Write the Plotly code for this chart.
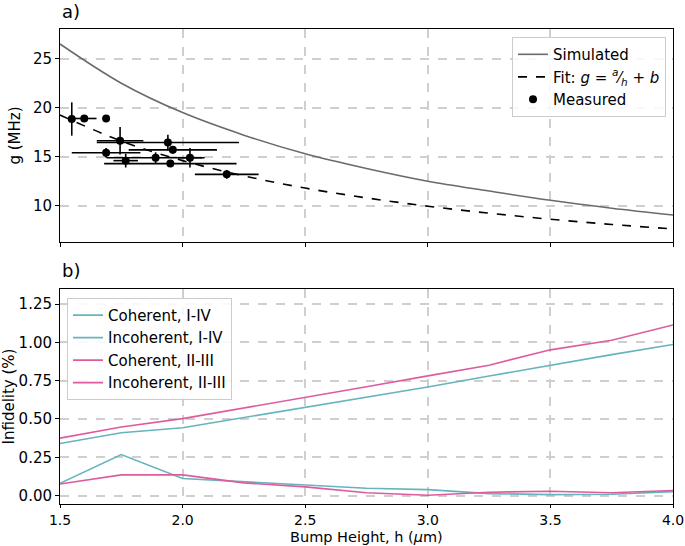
import plotly.graph_objects as go
from plotly.subplots import make_subplots

# ---- Panel a) data ----
h_curve = [1.5, 1.75, 2.0, 2.25, 2.5, 2.75, 3.0, 3.25, 3.5, 3.75, 4.0]
g_sim = [26.5, 22.5, 19.5, 17.2, 15.3, 13.8, 12.5, 11.5, 10.55, 9.75, 9.05]
g_fit = [19.25, 16.6, 14.6, 13.05, 11.8, 10.8, 9.95, 9.24, 8.62, 8.09, 7.63]

h_meas = [1.548, 1.599, 1.688, 1.745, 1.688, 1.768, 1.89, 1.94, 1.96, 1.95, 2.03, 2.18]
g_meas = [18.85, 18.9, 18.9, 16.63, 15.4, 14.6, 14.9, 16.45, 15.7, 14.3, 14.9, 13.2]
h_err = [0.0, 0.05, 0.0, 0.095, 0.14, 0.05, 0.2, 0.29, 0.18, 0.27, 0.05, 0.13]
g_err = [1.7, 0.0, 0.0, 1.4, 0.5, 0.7, 0.55, 0.8, 0.4, 0.0, 1.0, 0.45]

# ---- Panel b) data ----
h_inf = [1.5, 1.75, 2.0, 2.25, 2.5, 2.75, 3.0, 3.25, 3.5, 3.75, 4.0]
coh_14 = [0.34, 0.41, 0.443, 0.51, 0.574, 0.64, 0.709, 0.78, 0.851, 0.92, 0.986]
incoh_14 = [0.08, 0.268, 0.111, 0.09, 0.07, 0.048, 0.039, 0.013, 0.006, 0.009, 0.026]
coh_23 = [0.375, 0.447, 0.502, 0.57, 0.639, 0.71, 0.781, 0.851, 0.951, 1.014, 1.113]
incoh_23 = [0.075, 0.135, 0.135, 0.083, 0.057, 0.018, 0.002, 0.022, 0.028, 0.018, 0.033]

x_ticks = [1.5, 2.0, 2.5, 3.0, 3.5, 4.0]
g_ticks = [10, 15, 20, 25]
inf_ticks = [0.0, 0.25, 0.5, 0.75, 1.0, 1.25]

TEAL = "#66b4be"
PINK = "#de5c9e"
FONT = "DejaVu Sans"
FS = 15

fig = make_subplots(rows=2, cols=1, shared_xaxes=False, vertical_spacing=0.1)

fig.add_trace(go.Scatter(x=h_curve, y=g_sim, mode="lines", name="Simulated",
                         line=dict(color="#6a6a6a", width=1.6, shape="spline"),
                         legend="legend"), row=1, col=1)
fig.add_trace(go.Scatter(x=h_curve, y=g_fit, mode="lines",
                         name="Fit: <i>g</i> = <sup><i>a</i></sup>\u2044<sub><i>h</i></sub> + <i>b</i>",
                         line=dict(color="black", width=1.6, dash="dash", shape="spline"),
                         legend="legend"), row=1, col=1)
fig.add_trace(go.Scatter(x=h_meas, y=g_meas, mode="markers", name="Measured",
                         marker=dict(color="black", size=8),
                         error_x=dict(type="data", array=h_err, color="black", thickness=1.6, width=0),
                         error_y=dict(type="data", array=g_err, color="black", thickness=1.6, width=0),
                         legend="legend"), row=1, col=1)

fig.add_trace(go.Scatter(x=h_inf, y=coh_14, mode="lines", name="Coherent, I-IV",
                         line=dict(color=TEAL, width=1.6), legend="legend2"), row=2, col=1)
fig.add_trace(go.Scatter(x=h_inf, y=incoh_14, mode="lines", name="Incoherent, I-IV",
                         line=dict(color=TEAL, width=1.6), legend="legend2"), row=2, col=1)
fig.add_trace(go.Scatter(x=h_inf, y=coh_23, mode="lines", name="Coherent, II-III",
                         line=dict(color=PINK, width=1.6), legend="legend2"), row=2, col=1)
fig.add_trace(go.Scatter(x=h_inf, y=incoh_23, mode="lines", name="Incoherent, II-III",
                         line=dict(color=PINK, width=1.6), legend="legend2"), row=2, col=1)

axis_common = dict(showline=True, linecolor="black", linewidth=1, mirror=True,
                   ticks="outside", ticklen=4, tickcolor="black", tickwidth=1,
                   showgrid=True, gridcolor="#cfcfcf", gridwidth=1.5, griddash="dash",
                   zeroline=False, automargin=False,
                   tickfont=dict(family=FONT, size=FS, color="black"))

fig.update_xaxes(**axis_common)
fig.update_yaxes(**axis_common)

fig.update_xaxes(range=[1.5, 4.0], tickvals=x_ticks, showticklabels=False,
                 domain=[0, 1], row=1, col=1)
fig.update_xaxes(range=[1.5, 4.0], tickvals=x_ticks, tickformat=".1f", ticklen=3,
                 tickfont=dict(family=FONT, size=14, color="black"),
                 domain=[0, 1], row=2, col=1)
fig.update_yaxes(range=[6.3, 28.03], tickvals=g_ticks, domain=[0.5516, 1.0],
                 title=dict(text="g (MHz)", font=dict(family=FONT, size=FS, color="black"), standoff=8),
                 row=1, col=1)
fig.update_yaxes(range=[-0.055, 1.348], tickvals=inf_ticks, tickformat=".2f", domain=[0.0, 0.4526],
                 title=dict(text="Infidelity (%)", font=dict(family=FONT, size=FS, color="black"), standoff=2),
                 row=2, col=1)

legend_common = dict(bgcolor="rgba(255,255,255,0.85)", bordercolor="#cccccc", borderwidth=1,
                     font=dict(family=FONT, size=FS, color="black"), tracegroupgap=0,
                     itemwidth=30)

fig.update_layout(
    width=685, height=546,
    margin=dict(l=60, r=12, t=29, b=42, autoexpand=False),
    plot_bgcolor="white", paper_bgcolor="white",
    font=dict(family=FONT, size=FS, color="black"),
    legend=dict(x=0.9886, y=0.983, xanchor="right", yanchor="top", **legend_common),
    legend2=dict(x=0.0114, y=0.434, xanchor="left", yanchor="top", **legend_common),
    annotations=[
        dict(text="a)", x=0, y=1.0358, xref="paper", yref="paper", xanchor="left",
             yanchor="middle", showarrow=False, font=dict(family=FONT, size=18, color="black")),
        dict(text="b)", x=0, y=0.4926, xref="paper", yref="paper", xanchor="left",
             yanchor="middle", showarrow=False, font=dict(family=FONT, size=18, color="black")),
        dict(text="Bump Height, h (<i>μ</i>m)", x=0.5, y=-0.0884, xref="paper", yref="paper",
             xanchor="center", yanchor="bottom", showarrow=False, borderpad=0,
             font=dict(family=FONT, size=14.5, color="black")),
    ],
)

# remove the page's default 8px body margin so the figure sits at the window origin
fig.write_html("out.html", config={"displayModeBar": False},
               post_script="document.body.style.margin='0';")
